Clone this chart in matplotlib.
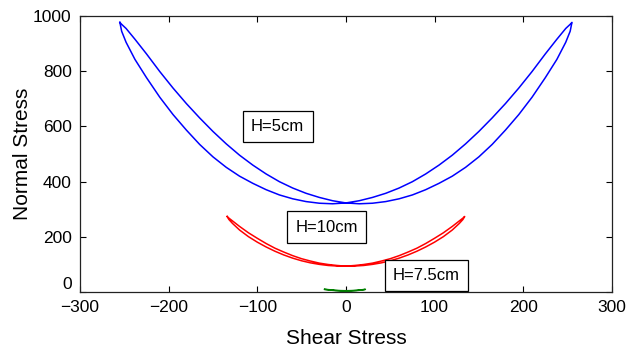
import matplotlib
matplotlib.use('Agg')
import matplotlib.pyplot as plt

plt.rcParams['font.family'] = ['Liberation Sans', 'DejaVu Sans']

# H=5cm loop: one x grid, branch a goes left->right, branch b comes back
blue_x = [-255, -253, -248, -238, -225, -210, -195, -180, -165, -150, -135,
          -120, -105, -90, -75, -60, -45, -30, -15, 0, 15, 30, 45, 60, 75,
          90, 105, 120, 135, 150, 165, 180, 195, 210, 225, 238, 248, 253, 255]
blue_y_a = [977, 945, 905, 843, 777, 706, 643, 587, 535, 490, 452,
            420, 394, 371, 352, 338, 328, 322, 320, 323, 331, 343, 358, 377, 400,
            428, 460, 496, 537, 582, 631, 683, 739, 799, 863, 916, 955, 970, 977]
blue_y_b = [977, 970, 955, 916, 863, 799, 739, 683, 631, 582, 537,
            496, 460, 428, 400, 377, 358, 343, 331, 323, 320, 322, 328, 338, 352,
            371, 394, 420, 452, 490, 535, 587, 643, 706, 777, 843, 905, 945, 977]

# H=10cm loop
red_x = [-134, -132, -128, -120, -110, -100, -90, -80, -70, -60, -50, -40,
         -30, -20, -10, 0, 10, 20, 30, 40, 50, 60, 70, 80, 90, 100, 110,
         120, 128, 132, 134]
red_y_a = [274, 263, 249, 225, 201, 181, 163.5, 148, 134.5, 123, 113.5, 106,
           100.5, 96.5, 94.5, 94, 96.5, 100, 105, 112.5, 121, 132, 145, 159,
           176, 195, 215, 238, 258, 268, 274]
red_y_b = [274, 268, 258, 238, 215, 195, 176, 159, 145, 132, 121, 112.5,
           105, 100, 96.5, 94, 94.5, 96.5, 100.5, 106, 113.5, 123, 134.5, 148,
           163.5, 181, 201, 225, 249, 263, 274]

# H=7.5cm loop (very small)
green_x = [-24, -18, -12, -6, 0, 6, 12, 18, 22]
green_y_a = [10, 7.5, 5.5, 4.5, 4, 4.5, 5.5, 7.5, 10]
green_y_b = [10, 8.5, 6.5, 5.5, 5, 5.5, 6.5, 8.5, 10]

labels = ['H=5cm', 'H=10cm', 'H=7.5cm']
label_x = [-77, -22, 91]
label_y = [600, 235, 60]

x_ticks = [-300, -200, -100, 0, 100, 200, 300]
y_ticks = [0, 200, 400, 600, 800, 1000]


def loop(x, ya, yb):
    return x + x[::-1], ya + yb[::-1]


def main():
    fig = plt.figure(figsize=(6.42, 3.49), dpi=100)
    ax = fig.add_axes([0.1246, 0.163, 0.8284, 0.791])

    for x, ya, yb, c in [(blue_x, blue_y_a, blue_y_b, (0, 0, 1)),
                         (red_x, red_y_a, red_y_b, (1, 0, 0)),
                         (green_x, green_y_a, green_y_b, (0, 0.5, 0))]:
        lx, ly = loop(x, ya, yb)
        ax.plot(lx, ly, '-', color=c, linewidth=1.1)

    for t, x, y in zip(labels, label_x, label_y):
        ax.text(x, y, t, ha='center', va='center', fontsize=12,
                bbox=dict(boxstyle='square,pad=0.5', facecolor='white',
                          edgecolor='black', linewidth=0.9))

    ax.set_xlim(-300, 300)
    ax.set_ylim(0, 1000)
    ax.set_xticks(x_ticks)
    ax.set_yticks(y_ticks)
    ax.set_xticklabels(['\u2212300', '\u2212200', '\u2212100', '0', '100',
                        '200', '300'])
    ax.tick_params(direction='in', top=True, right=True, length=4.5,
                   labelsize=12.5, width=0.8, pad=6)
    ax.get_yticklabels()[0].set_verticalalignment('bottom')
    for s in ax.spines.values():
        s.set_linewidth(0.9)
        s.set_color('#222222')

    ax.set_xlabel('Shear Stress', fontsize=15, labelpad=10)
    ax.set_ylabel('Normal Stress', fontsize=15, labelpad=1)

    fig.savefig('out.png', dpi=100)


if __name__ == '__main__':
    main()
